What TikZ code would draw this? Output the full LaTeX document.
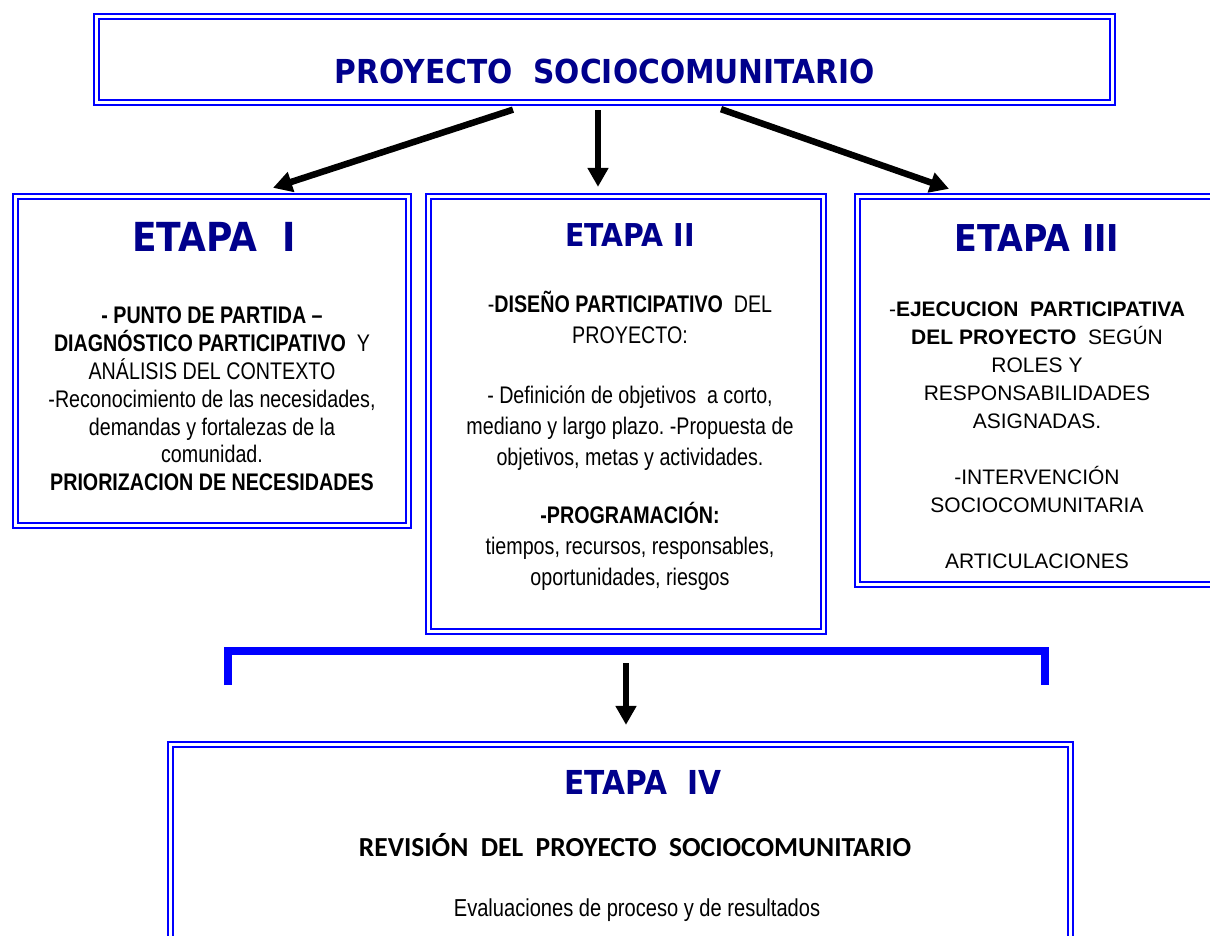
\documentclass[tikz,border=0pt]{standalone}
\usepackage{fontspec}
\setmainfont{Liberation Sans}
\newfontfamily\narrowfont[FakeStretch=0.82]{Liberation Sans}
\newfontfamily\comicfont[FakeStretch=0.9]{DejaVu Sans}
\newfontfamily\calibrifont{Carlito}
\usetikzlibrary{arrows.meta}
\frenchspacing

\definecolor{azulborde}{rgb}{0,0,1}
\definecolor{azultitulo}{rgb}{0,0,0.55}

\begin{document}
\begin{tikzpicture}[x=1pt,y=-1pt,
    caja/.style={draw=azulborde, line width=2.3pt, double=white, double distance=2.5pt, inner sep=0pt},
    titulo/.style={text=azultitulo, inner sep=0pt, font=\comicfont\bfseries\fontsize{#1}{#1}\selectfont},
    cuerpo/.style={align=center, inner sep=0pt},
    flecha/.style={line width=6.5pt, -{Triangle[length=19pt,width=20pt]}}]
            \path[use as bounding box, clip] (0,0) rectangle (1210,935);

            % cajas
            \node[caja, minimum width=1016pt, minimum height=86pt] (proyecto) at (604.5,59.5) {};
            \node[caja, minimum width=393pt, minimum height=329pt] (etapa1) at (212,361) {};
            \node[caja, minimum width=395pt, minimum height=435pt] (etapa2) at (626,414) {};
            \node[caja, minimum width=359pt, minimum height=388pt] (etapa3) at (1037,390.5) {};
            \node[caja, minimum width=900pt, minimum height=230pt] (etapa4) at (620.5,859.5) {};

            % titulos
            \node[titulo=33] (tproyecto) at (605,71) {PROYECTO\ \ SOCIOCOMUNITARIO};
            \node[titulo=40] (tetapa1) at (214,237) {ETAPA\ \ I};
            \node[titulo=31.5] (tetapa2) at (630,235) {ETAPA II};
            \node[titulo=37] (tetapa3) at (1037,238) {ETAPA III};
            \node[titulo=33] (tetapa4) at (643,782) {ETAPA\ \ IV};

            % textos
            \node[cuerpo, font=\narrowfont\fontsize{24}{27.8}\selectfont] (texto1) at (212,399) {%
                \textbf{- PUNTO DE PARTIDA –}\\
                \textbf{DIAGNÓSTICO PARTICIPATIVO}\ \ Y\\
                ANÁLISIS DEL CONTEXTO\\
                -Reconocimiento de las necesidades,\\
                demandas y fortalezas de la\\
                comunidad.\\
                \textbf{PRIORIZACION DE NECESIDADES}};
            \node[cuerpo, font=\narrowfont\fontsize{24}{31.3}\selectfont] (texto2) at (630,441) {%
                -\textbf{DISEÑO PARTICIPATIVO}\ \ DEL\\
                PROYECTO:\\[28pt]
                - Definición de objetivos\ \ a corto,\\
                mediano y largo plazo. -Propuesta de\\
                objetivos, metas y actividades.\\[26pt]
                \textbf{-PROGRAMACIÓN:}\\
                tiempos, recursos, responsables,\\
                oportunidades, riesgos};
            \node[cuerpo, font=\fontsize{21}{28}\selectfont] (texto3) at (1037,435) {%
                -\textbf{EJECUCION\ \ PARTICIPATIVA}\\
                \textbf{DEL PROYECTO}\ \ SEGÚN\\
                ROLES Y\\
                RESPONSABILIDADES\\
                ASIGNADAS.\\[28pt]
                -INTERVENCIÓN\\
                SOCIOCOMUNITARIA\\[28pt]
                ARTICULACIONES};
            \node[inner sep=0pt, text height=17.4pt, text depth=0pt, font=\calibrifont\bfseries\fontsize{27.5}{32}\selectfont] (revision) at (635,848) {REVISIÓN\ \ DEL\ \ PROYECTO\ \ SOCIOCOMUNITARIO};
            \node[inner sep=0pt, text height=17.5pt, text depth=0pt, font=\narrowfont\fontsize{24.5}{29}\selectfont] (evaluacion) at (637,908) {Evaluaciones de proceso y de resultados};

            % flechas
            \draw[flecha] ([xshift=-91.5pt,yshift=-6pt]proyecto.south) -- ([xshift=61pt,yshift=7.5pt]etapa1.north);
            \draw[flecha] ([xshift=-6.5pt,yshift=-6.5pt]proyecto.south) -- ([xshift=-28pt,yshift=8.5pt]etapa2.north);
            \draw[flecha] ([xshift=116.5pt,yshift=-5.5pt]proyecto.south) -- ([xshift=-88pt,yshift=6.5pt]etapa3.north);

            \draw[azulborde, line width=8pt] (228,685) -- (228,651) -- (1045,651) -- (1045,685);
            \coordinate (bajada) at (626,663);
            \draw[flecha] (bajada) -- ([xshift=5.5pt,yshift=18.5pt]etapa4.north);
\end{tikzpicture}
\end{document}
